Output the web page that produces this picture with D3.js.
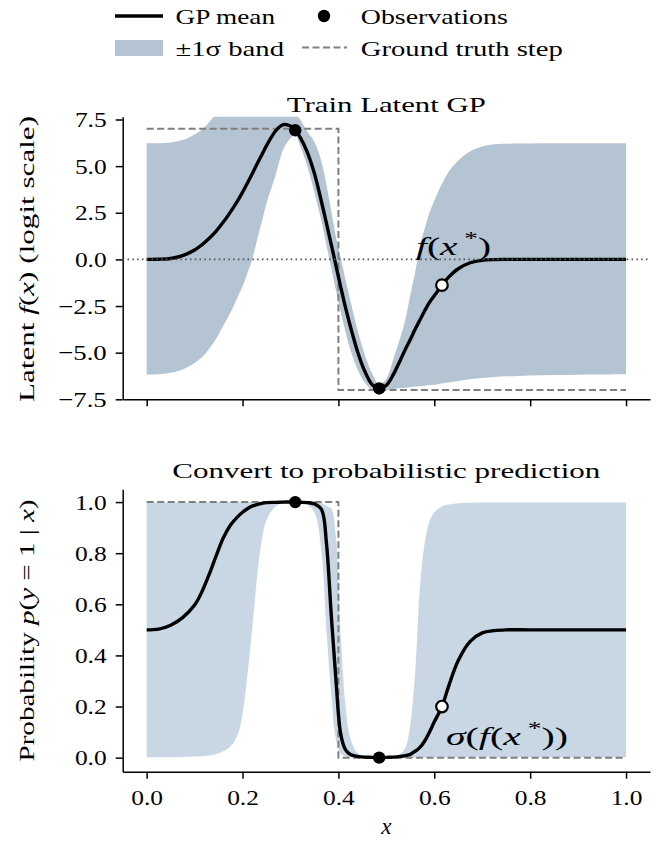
<!DOCTYPE html>
<html>
<head>
<meta charset="utf-8">
<script src="https://cdn.jsdelivr.net/npm/d3@7"></script>
<style>
  body { margin: 0; background: #fff; }
  svg { font-family: "Liberation Serif", serif; }
  .math { font-style: italic; }
</style>
</head>
<body>
<script>
// x grid shared by both panels
const xGrid = [0, 0.025, 0.05, 0.075, 0.1, 0.115, 0.13, 0.145, 0.16, 0.175,
  0.19, 0.2, 0.21, 0.22, 0.23, 0.24, 0.25, 0.27, 0.285, 0.3,
  0.31, 0.32, 0.335, 0.35, 0.365, 0.375, 0.385, 0.395, 0.405, 0.415,
  0.425, 0.44, 0.455, 0.47, 0.485, 0.5, 0.515, 0.53, 0.54, 0.55,
  0.56, 0.57, 0.58, 0.59, 0.6, 0.616, 0.63, 0.65, 0.675, 0.7,
  0.725, 0.75, 0.8, 0.85, 0.9, 0.95, 1.0];

// top panel: latent GP
const latentMean = [0, 0.01, 0.05, 0.2, 0.5, 0.78, 1.12, 1.52, 2.0, 2.55,
  3.15, 3.6, 4.08, 4.58, 5.1, 5.6, 6.1, 6.92, 7.22, 7.15,
  6.92, 6.55, 5.75, 4.6, 3.05, 1.95, 0.8, -0.35, -1.5, -2.6,
  -3.6, -4.95, -6.0, -6.7, -6.92, -6.75, -6.15, -5.35, -4.8, -4.3,
  -3.75, -3.25, -2.75, -2.3, -1.95, -1.38, -0.95, -0.5, -0.18, -0.05,
  -0.01, 0, 0, 0, 0, 0, 0];
const latentLower = [-6.18, -6.16, -6.08, -5.9, -5.55, -5.25, -4.8, -4.25, -3.55, -2.85,
  -2.0, -1.45, -0.75, 0.0, 1.0, 2.0, 3.0, 4.6, 5.9, 6.5,
  6.7, 6.1, 5.0, 3.6, 2.0, 0.75, -0.45, -1.7, -2.85, -3.9,
  -4.85, -5.9, -6.6, -7.0, -7.1, -7.0, -6.95, -6.9, -6.88, -6.85,
  -6.82, -6.8, -6.77, -6.74, -6.72, -6.65, -6.6, -6.52, -6.43, -6.36,
  -6.3, -6.27, -6.22, -6.2, -6.18, -6.17, -6.16];
const latentUpper = [6.22, 6.23, 6.27, 6.4, 6.7, 6.95, 7.35, 7.8, 8.2, 8.6,
  8.9, 9.1, 9.2, 9.3, 9.35, 9.35, 9.3, 9.0, 8.6, 8.2,
  7.8, 7.5, 6.85, 6.3, 5.2, 4.0, 2.6, 1.2, 0.05, -1.1,
  -2.2, -3.8, -5.1, -6.1, -6.7, -6.4, -5.3, -4.1, -3.2, -1.9,
  -0.7, 0.7, 1.65, 2.5, 3.15, 4.05, 4.7, 5.3, 5.8, 6.05,
  6.17, 6.2, 6.21, 6.22, 6.22, 6.22, 6.22];

// bottom panel: probability
const probMean = [0.5, 0.503, 0.518, 0.548, 0.597, 0.648, 0.715, 0.79, 0.86, 0.91,
  0.943, 0.96, 0.974, 0.984, 0.99, 0.995, 0.998, 0.999, 1.0, 1.0,
  1.0, 0.999, 0.998, 0.993, 0.97, 0.84, 0.56, 0.3, 0.09, 0.03,
  0.012, 0.005, 0.002, 0.001, 0.0, 0.001, 0.002, 0.005, 0.008, 0.013,
  0.025, 0.04, 0.065, 0.1, 0.14, 0.2, 0.28, 0.38, 0.455, 0.488,
  0.497, 0.5, 0.5, 0.5, 0.5, 0.5, 0.5];
const probLower = [0.002, 0.002, 0.002, 0.003, 0.004, 0.005, 0.008, 0.014, 0.025, 0.045,
  0.09, 0.17, 0.32, 0.5, 0.7, 0.85, 0.93, 0.985, 0.995, 0.998,
  0.998, 0.997, 0.99, 0.96, 0.8, 0.5, 0.25, 0.07, 0.015, 0.005,
  0.002, 0.001, 0.001, 0.001, 0.001, 0.001, 0.001, 0.001, 0.001, 0.001,
  0.001, 0.001, 0.001, 0.001, 0.001, 0.001, 0.001, 0.001, 0.002, 0.002,
  0.002, 0.002, 0.002, 0.002, 0.002, 0.002, 0.002];
const probUpper = [0.998, 0.998, 0.998, 0.998, 0.999, 0.999, 0.999, 1.0, 1.0, 1.0,
  1.0, 1.0, 1.0, 1.0, 1.0, 1.0, 1.0, 1.0, 1.0, 1.0,
  1.0, 1.0, 0.999, 0.998, 0.995, 0.985, 0.975, 0.86, 0.47, 0.2,
  0.075, 0.018, 0.006, 0.002, 0.001, 0.002, 0.005, 0.016, 0.04, 0.13,
  0.33, 0.67, 0.84, 0.925, 0.96, 0.983, 0.991, 0.995, 0.997, 0.998,
  0.998, 0.998, 0.998, 0.998, 0.998, 0.998, 0.998];

// observations, query point, ground truth step
const obsX = [0.31, 0.485];
const obsLatent = [6.92, -6.92];
const obsProb = [1.0, 0.0];
const queryX = [0.616];
const queryLatent = [-1.38];
const queryProb = [0.2];
const stepX = [0, 0.4, 0.4, 1];
const stepLatent = [7, 7, -7, -7];
const stepProb = [1, 1, 0, 0];

const xTicks = [0, 0.2, 0.4, 0.6, 0.8, 1.0];
const latentTicks = [-7.5, -5, -2.5, 0, 2.5, 5, 7.5];
const probTicks = [0, 0.2, 0.4, 0.6, 0.8, 1.0];

const W = 660, H = 843;
const FS = 22;
const BAND_TOP = "#b5c4d3", BAND_BOT = "#c9d7e5";
const svg = d3.select("body").append("svg").attr("width", W).attr("height", H);

// Liberation Serif is narrower than the original serif, stretch text to the original width
function fitTo(sel, w) {
  sel.attr("textLength", w).attr("lengthAdjust", "spacingAndGlyphs");
}
const digitW = {"−": 0.838, ".": 0.318};
function numWidth(s) {
  let w = 0;
  for (const c of s) w += (digitW[c] || 0.636);
  return w * 20;
}

const left = 122.7, right = 650;
const x = d3.scaleLinear().domain([-0.05, 1.05]).range([left, right]);

function panel(id, top, bottom, yDomain, mean, lower, upper, bandColor, ticks, showXLabels) {
  const y = d3.scaleLinear().domain(yDomain).range([bottom, top]);
  const g = svg.append("g");
  svg.append("clipPath").attr("id", id)
    .append("rect").attr("x", left).attr("y", top).attr("width", right - left).attr("height", bottom - top);
  const plot = g.append("g").attr("clip-path", `url(#${id})`);

  const rows = xGrid.map((d, i) => ({x: d, m: mean[i], lo: lower[i], hi: upper[i]}));
  plot.append("path").datum(rows)
    .attr("fill", bandColor)
    .attr("d", d3.area().curve(d3.curveCatmullRom)
      .x(d => x(d.x)).y0(d => y(d.lo)).y1(d => y(d.hi)));

  const axX = d3.axisBottom(x).tickValues(xTicks).tickSize(7).tickSizeOuter(0).tickPadding(11)
    .tickFormat(showXLabels ? d3.format(".1f") : "");
  const axY = d3.axisLeft(y).tickValues(ticks).tickSize(7).tickSizeOuter(0).tickPadding(9)
    .tickFormat(d3.format(".1f"));
  g.append("g").attr("transform", `translate(0,${bottom})`).call(axX);
  g.append("g").attr("transform", `translate(${left},0)`).call(axY);
  g.selectAll(".domain").attr("stroke-width", 1.5);
  g.selectAll(".tick line").attr("stroke-width", 1.5);
  g.selectAll(".tick text")
    .attr("font-size", FS).attr("font-family", "Liberation Serif").attr("fill", "#000")
    .each(function() {
      const t = d3.select(this);
      if (t.text()) fitTo(t, numWidth(t.text()));
    });

  return {y, plot, rows, g};
}

function drawLines(p, stepY, obsY, qY) {
  const {y, plot, rows} = p;
  // ground truth step
  plot.append("path")
    .datum(stepX.map((d, i) => [d, stepY[i]]))
    .attr("fill", "none").attr("stroke", "#808080").attr("stroke-width", 2)
    .attr("stroke-dasharray", "7,3.5")
    .attr("d", d3.line().x(d => x(d[0])).y(d => y(d[1])));
  // GP mean
  plot.append("path").datum(rows)
    .attr("fill", "none").attr("stroke", "#000").attr("stroke-width", 3.4)
    .attr("stroke-linejoin", "round")
    .attr("d", d3.line().curve(d3.curveCatmullRom).x(d => x(d.x)).y(d => y(d.m)));
  plot.selectAll(".obs").data(obsX).join("circle")
    .attr("cx", d => x(d)).attr("cy", (d, i) => y(obsY[i])).attr("r", 6.2).attr("fill", "#000");
  plot.selectAll(".query").data(queryX).join("circle")
    .attr("cx", d => x(d)).attr("cy", (d, i) => y(qY[i])).attr("r", 5.8)
    .attr("fill", "#fff").attr("stroke", "#000").attr("stroke-width", 2.2);
}

// ---- top panel ----
const topP = panel("clipTop", 116.7, 399.3, [-7.5, 7.65], latentMean, latentLower, latentUpper,
  BAND_TOP, latentTicks, false);
// zero reference
topP.g.append("line")
  .attr("x1", left).attr("x2", right).attr("y1", topP.y(0)).attr("y2", topP.y(0))
  .attr("stroke", "#555").attr("stroke-width", 1.6).attr("stroke-dasharray", "1.6,3.2");
drawLines(topP, stepLatent, obsLatent, queryLatent);

// ---- bottom panel ----
const botP = panel("clipBot", 489.3, 771.7, [-0.055, 1.05], probMean, probLower, probUpper,
  BAND_BOT, probTicks, true);
drawLines(botP, stepProb, obsProb, queryProb);

// titles
fitTo(svg.append("text").attr("x", (left + right) / 2).attr("y", 112).attr("text-anchor", "middle")
  .attr("font-size", FS).text("Train Latent GP"), 199);
fitTo(svg.append("text").attr("x", (left + right) / 2).attr("y", 478).attr("text-anchor", "middle")
  .attr("font-size", FS).text("Convert to probabilistic prediction"), 428);

// y labels
const yl1 = svg.append("text").attr("transform", `translate(34,${(116.7 + 399.3) / 2 + 1}) rotate(-90)`)
  .attr("text-anchor", "middle").attr("font-size", FS);
yl1.append("tspan").text("Latent ");
yl1.append("tspan").attr("class", "math").text("f");
yl1.append("tspan").text("(");
yl1.append("tspan").attr("class", "math").text("x");
yl1.append("tspan").text(")");
yl1.append("tspan").text(" (logit scale)");
fitTo(yl1, 286);

const yl2 = svg.append("text").attr("transform", `translate(34,${(489.3 + 771.7) / 2}) rotate(-90)`)
  .attr("text-anchor", "middle").attr("font-size", FS);
yl2.append("tspan").text("Probability ");
yl2.append("tspan").attr("class", "math").text("p");
yl2.append("tspan").text("(");
yl2.append("tspan").attr("class", "math").text("y");
yl2.append("tspan").text(" = 1 | ");
yl2.append("tspan").attr("class", "math").text("x");
yl2.append("tspan").text(")");
fitTo(yl2, 262);

// x label
svg.append("text").attr("class", "math").attr("x", (left + right) / 2).attr("y", 834)
  .attr("text-anchor", "middle").attr("font-size", FS + 1).text("x");

// annotations
const a1 = svg.append("text").attr("x", 416).attr("y", 255).attr("font-size", 26);
a1.append("tspan").attr("class", "math").text("f");
a1.append("tspan").text("(");
a1.append("tspan").attr("class", "math").text("x");
a1.append("tspan").attr("font-size", 18).attr("dy", -10).text(" *");
a1.append("tspan").attr("dy", 10).text(")");
fitTo(a1, 75);

const a2 = svg.append("text").attr("x", 446).attr("y", 745).attr("font-size", 26);
a2.append("tspan").attr("class", "math").text("σ");
a2.append("tspan").text("(");
a2.append("tspan").attr("class", "math").text("f");
a2.append("tspan").text("(");
a2.append("tspan").attr("class", "math").text("x");
a2.append("tspan").attr("font-size", 18).attr("dy", -10).text(" *");
a2.append("tspan").attr("dy", 10).text("))");
fitTo(a2, 122);

// legend
const lg = svg.append("g");
lg.append("line").attr("x1", 115).attr("x2", 163).attr("y1", 16).attr("y2", 16)
  .attr("stroke", "#000").attr("stroke-width", 3.4);
fitTo(lg.append("text").attr("x", 175.5).attr("y", 23.5).attr("font-size", FS).text("GP mean"), 99.5);
lg.append("circle").attr("cx", 324).attr("cy", 16).attr("r", 6.2).attr("fill", "#000");
fitTo(lg.append("text").attr("x", 360.8).attr("y", 23.5).attr("font-size", FS).text("Observations"), 147);
lg.append("rect").attr("x", 115).attr("y", 40).attr("width", 48).attr("height", 16).attr("fill", BAND_TOP);
fitTo(lg.append("text").attr("x", 175.5).attr("y", 55.5).attr("font-size", FS).text("±1σ band"), 108.5);
lg.append("line").attr("x1", 302).attr("x2", 347).attr("y1", 47.5).attr("y2", 47.5)
  .attr("stroke", "#808080").attr("stroke-width", 2).attr("stroke-dasharray", "7,3.5");
fitTo(lg.append("text").attr("x", 360.8).attr("y", 55.5).attr("font-size", FS).text("Ground truth step"), 202);
</script>
</body>
</html>
